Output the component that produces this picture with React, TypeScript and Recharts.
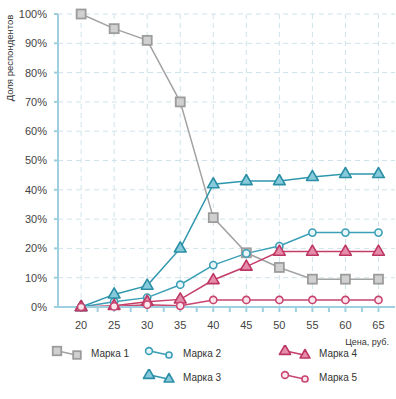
import React from "react";
import {
  LineChart,
  Line,
  XAxis,
  YAxis,
  CartesianGrid,
  Legend,
  Label,
} from "recharts";

const prices = [20, 25, 30, 35, 40, 45, 50, 55, 60, 65];
const brand1 = [100, 95, 91, 70, 30.5, 18.5, 13.5, 9.5, 9.5, 9.5];
const brand2 = [0, 1.8, 3.2, 7.6, 14.3, 18.3, 20.8, 25.4, 25.4, 25.4];
const brand3 = [0, 4.3, 7.3, 20, 41.9, 43, 43, 44.4, 45.4, 45.4];
const brand4 = [0, 0.4, 1.8, 2.6, 9.2, 13.8, 18.9, 18.9, 18.9, 18.9];
const brand5 = [0, 0.2, 0.8, 0.4, 2.4, 2.4, 2.4, 2.4, 2.4, 2.4];

const yTicks = [0, 10, 20, 30, 40, 50, 60, 70, 80, 90, 100];
const xTicks = [20, 22.5, 25, 27.5, 30, 32.5, 35, 37.5, 40, 42.5, 45, 47.5, 50, 52.5, 55, 57.5, 60, 62.5, 65];
const xDomain = [16.5, 67.5];

const data = prices.map((p, i) => ({
  price: p,
  b1: brand1[i],
  b2: brand2[i],
  b3: brand3[i],
  b4: brand4[i],
  b5: brand5[i],
}));

type Shape = "square" | "circle" | "triangle";

const series = [
  { key: "b1", name: "Марка 1", line: "#a3a3a3", fill: "#d0d0d0", stroke: "#9c9c9c", shape: "square" as Shape },
  { key: "b2", name: "Марка 2", line: "#3b9fb6", fill: "#e8f6fa", stroke: "#3b9fb6", shape: "circle" as Shape },
  { key: "b3", name: "Марка 3", line: "#2f97ad", fill: "#86cadb", stroke: "#2a8fa5", shape: "triangle" as Shape },
  { key: "b4", name: "Марка 4", line: "#c43d68", fill: "#e58cab", stroke: "#bd3662", shape: "triangle" as Shape },
  { key: "b5", name: "Марка 5", line: "#c8466f", fill: "#fbe6ee", stroke: "#c8466f", shape: "circle" as Shape },
];

const font = "'Liberation Sans', Arial, sans-serif";

const Marker = ({ cx, cy, shape, fill, stroke, s = 1 }: any) => {
  if (cx == null || cy == null) return null;
  if (shape === "square") {
    const h = 4.5 * s;
    return <rect x={cx - h} y={cy - h} width={h * 2} height={h * 2} fill={fill} stroke={stroke} strokeWidth={1.8} />;
  }
  if (shape === "circle") {
    return <circle cx={cx} cy={cy} r={3.6 * s} fill={fill} stroke={stroke} strokeWidth={1.6} />;
  }
  const r = 6.5 * s;
  const pts = `${cx},${cy - r} ${cx + r * 0.9},${cy + r * 0.55} ${cx - r * 0.9},${cy + r * 0.55}`;
  return <polygon points={pts} fill={fill} stroke={stroke} strokeWidth={1.6} strokeLinejoin="round" />;
};

const LegendIcon = ({ item }: any) => (
  <svg width={34} height={16} style={{ display: "block" }}>
    <line x1={8} y1={6} x2={26} y2={10} stroke={item.line} strokeWidth={1.5} />
    <Marker cx={7} cy={6} shape={item.shape} fill={item.fill} stroke={item.stroke} s={0.95} />
    <Marker cx={27} cy={10} shape={item.shape} fill={item.fill} stroke={item.stroke} s={0.85} />
  </svg>
);

const legendPos: Record<string, { left: number; top: number }> = {
  b1: { left: 50, top: 345 },
  b2: { left: 142, top: 345 },
  b4: { left: 278, top: 345 },
  b3: { left: 142, top: 369 },
  b5: { left: 278, top: 369 },
};

const renderLegend = () => (
  <div style={{ position: "relative", width: 396, height: 60 }}>
    {series.map((s) => {
      const pos = legendPos[s.key];
      return (
        <div
          key={s.key}
          style={{
            position: "absolute",
            left: pos.left,
            top: pos.top - 340,
            display: "flex",
            alignItems: "center",
            gap: 7,
            fontFamily: font,
            fontSize: 10,
            color: "#333",
          }}
        >
          <LegendIcon item={s} />
          <span>{s.name}</span>
        </div>
      );
    })}
  </div>
);

// vertical grid only at the labelled prices, not at the minor ticks
const verticalGrid = ({ offset }: any) =>
  prices.map((p) => offset.left + ((p - xDomain[0]) / (xDomain[1] - xDomain[0])) * offset.width);

const App = () => {
  const axisColor = "#9fd0e0";
  return (
    <div style={{ position: "absolute", left: 0, top: 0, width: 396, height: 399, background: "#fff" }}>
      <LineChart
        width={396}
        height={399}
        data={data}
        margin={{ top: 14, right: 1, left: 0, bottom: 2 }}
      >
        <CartesianGrid
          stroke="#cfe3ea"
          strokeDasharray="5 4"
          verticalCoordinatesGenerator={verticalGrid}
        />
        <XAxis
          dataKey="price"
          type="number"
          domain={xDomain}
          ticks={xTicks}
          interval={0}
          tickFormatter={(v: number) => (v % 5 === 0 ? String(v) : "")}
          height={30}
          stroke={axisColor}
          strokeWidth={2}
          tickSize={5}
          tickMargin={9}
          tick={{ fill: "#444", fontSize: 11, fontFamily: font }}
          allowDataOverflow
        >
          <Label
            content={() => (
              <text x={389} y={345} textAnchor="end" fill="#333" fontSize={9} fontFamily={font}>
                Цена, руб.
              </text>
            )}
          />
        </XAxis>
        <YAxis
          domain={[0, 100]}
          ticks={yTicks}
          interval={0}
          width={58}
          tickFormatter={(v: number) => `${v}%`}
          stroke={axisColor}
          strokeWidth={2}
          tickSize={4}
          tickMargin={7}
          tick={{ fill: "#444", fontSize: 11, fontFamily: font }}
        >
          <Label
            content={() => (
              <text
                x={10}
                y={58}
                transform="rotate(-90 10 58)"
                textAnchor="middle"
                dominantBaseline="middle"
                fill="#333"
                fontSize={9.5}
                fontFamily={font}
              >
                Доля  респондентов
              </text>
            )}
          />
        </YAxis>
        <Legend
          content={renderLegend}
          wrapperStyle={{ position: "absolute", left: 0, top: 340, width: 396, height: 60 }}
        />
        {series.map((s) => (
          <Line
            key={s.key}
            dataKey={s.key}
            name={s.name}
            stroke={s.line}
            strokeWidth={1.5}
            isAnimationActive={false}
            dot={(p: any) => (
              <Marker key={`${s.key}-${p.index}`} cx={p.cx} cy={p.cy} shape={s.shape} fill={s.fill} stroke={s.stroke} />
            )}
            activeDot={false}
          />
        ))}
      </LineChart>
    </div>
  );
};

export default App;
